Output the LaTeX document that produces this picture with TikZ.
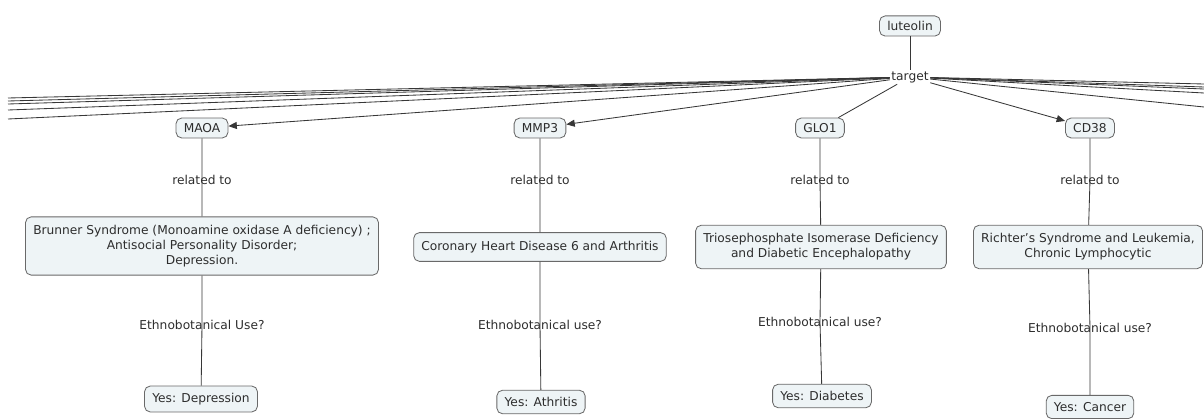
\documentclass[tikz,border=0pt]{standalone}
\usepackage{fontspec}
\setmainfont{DejaVu Sans}
\usetikzlibrary{arrows.meta}
\definecolor{conceptfill}{RGB}{238,244,246}
\definecolor{conceptline}{RGB}{105,105,105}
\definecolor{linkline}{RGB}{55,55,55}
\definecolor{labeltext}{RGB}{45,45,45}
\tikzset{
	concept/.style={draw=conceptline, fill=conceptfill, rounded corners=4pt, line width=0.6pt,
		inner xsep=5.5pt, inner ysep=6pt, align=center, text=labeltext,
		font=\fontsize{8.7}{10.5}\selectfont},
	smallconcept/.style={concept, inner ysep=3.8pt},
	linkword/.style={inner sep=1pt, text=labeltext, font=\fontsize{8.7}{10}\selectfont},
	link/.style={draw=linkline, line width=0.6pt},
	linkarrow/.style={link, -{Triangle[length=6pt,width=5pt]}}
}
\begin{document}
\begin{tikzpicture}[x=0.025cm, y=-0.025cm]
		\useasboundingbox (0,0) rectangle (1204,419);
		% top of the map
		\node[smallconcept] (luteolin) at (910,26) {luteolin};
		\node[linkword] (target) at (910,77) {target};
		% targets
		\node[smallconcept] (maoa) at (202,128) {MAOA};
		\node[smallconcept] (mmp3) at (540,128) {MMP3};
		\node[smallconcept] (glo1) at (820,128) {GLO1};
		\node[smallconcept] (cd38) at (1090,128) {CD38};
		% diseases
		\node[linkword] (maoa-rel) at (202,180) {related to};
		\node[linkword] (mmp3-rel) at (540,180) {related to};
		\node[linkword] (glo1-rel) at (820,180) {related to};
		\node[linkword] (cd38-rel) at (1090,180) {related to};
		\node[concept] (maoa-dis) at (202,246) {Brunner Syndrome (Monoamine oxidase A deficiency) ;\\Antisocial Personality Disorder;\\Depression.};
		\node[concept] (mmp3-dis) at (540,247) {Coronary Heart Disease 6 and Arthritis};
		\node[concept] (glo1-dis) at (821,247) {Triosephosphate Isomerase Deficiency\\and Diabetic Encephalopathy};
		\node[concept] (cd38-dis) at (1088,247) {Richter's Syndrome and Leukemia,\\Chronic Lymphocytic};
		% uses
		\node[linkword] (maoa-eth) at (202,325) {Ethnobotanical Use?};
		\node[linkword] (mmp3-eth) at (540,325) {Ethnobotanical use?};
		\node[linkword] (glo1-eth) at (820,322) {Ethnobotanical use?};
		\node[linkword] (cd38-eth) at (1090,328) {Ethnobotanical use?};
		\node[concept, inner ysep=5pt] (maoa-yes) at (201,399) {Yes: Depression};
		\node[concept, inner ysep=5pt] (mmp3-yes) at (541,402) {Yes: Athritis};
		\node[concept, inner ysep=5pt] (glo1-yes) at (822,396) {Yes: Diabetes};
		\node[concept, inner ysep=5pt] (cd38-yes) at (1090,407) {Yes: Cancer};
		% links
		\draw[link] (luteolin) -- (target);
		\draw[linkarrow] (target) -- (maoa);
		\draw[linkarrow] (target) -- (mmp3);
		\draw[link] (target) -- (glo1);
		\draw[linkarrow] (target) -- (cd38);
		\foreach \g in {maoa,mmp3,glo1,cd38}
		\draw[link] (\g) -- (\g-rel.center) -- (\g-dis) -- (\g-eth.center) -- (\g-yes);
		% links running out of the picture
		\foreach \y [count=\i] in {98,101,104,110,119}
		\coordinate (west\i) at (8,\y);
		\foreach \y [count=\i] in {84,87,89,93,107}
		\coordinate (east\i) at (1204,\y);
		\foreach \i in {1,...,5}
		\draw[link] (target) -- (west\i) (target) -- (east\i);
	\end{tikzpicture}
\end{document}
